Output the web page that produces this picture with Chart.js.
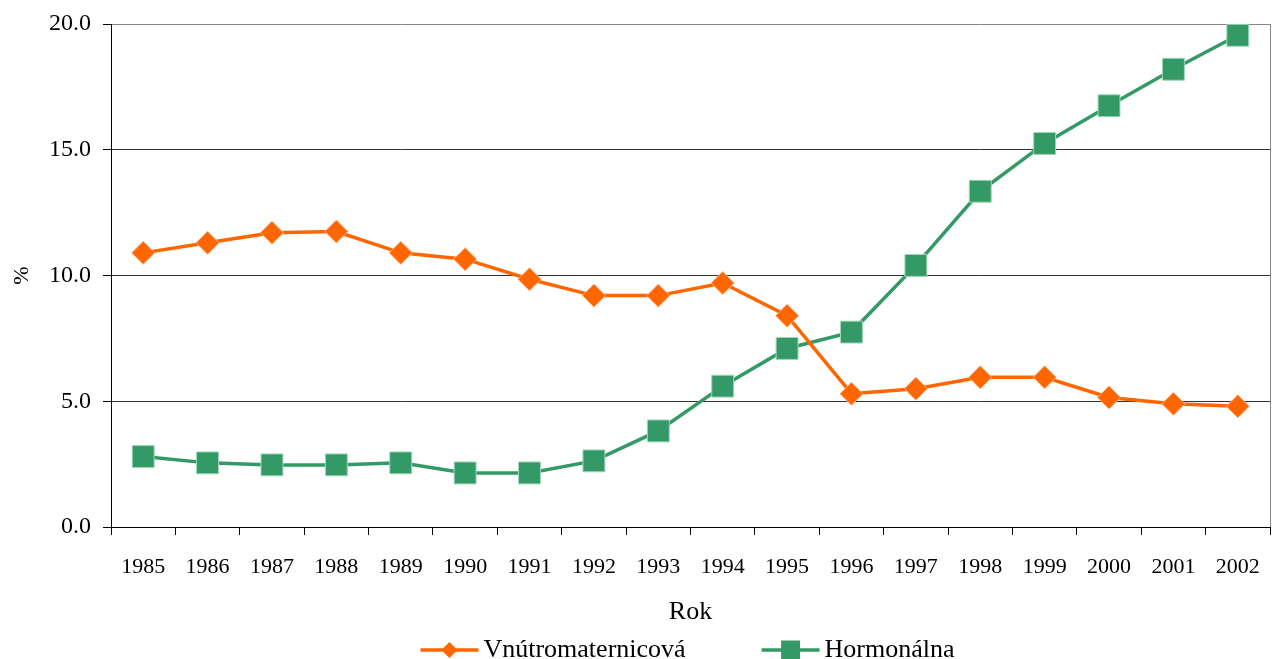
<!DOCTYPE html>
<html>
<head>
<meta charset="utf-8">
<script src="https://cdn.jsdelivr.net/npm/chart.js@4/dist/chart.umd.min.js"></script>
<style>
  html, body { margin: 0; padding: 0; background: #fff; }
  #wrap { width: 1273px; height: 659px; }
</style>
</head>
<body>
<div id="wrap"><canvas id="rokChart" width="1273" height="659"></canvas></div>
<script>
const years = ["1985", "1986", "1987", "1988", "1989", "1990", "1991", "1992", "1993",
  "1994", "1995", "1996", "1997", "1998", "1999", "2000", "2001", "2002"];
const vnutro = [10.9, 11.3, 11.7, 11.75, 10.9, 10.65, 9.85, 9.2, 9.2,
  9.7, 8.4, 5.3, 5.5, 5.95, 5.95, 5.15, 4.9, 4.8];
const hormon = [2.8, 2.55, 2.47, 2.47, 2.55, 2.15, 2.15, 2.63, 3.82,
  5.6, 7.1, 7.75, 10.4, 13.35, 15.25, 16.75, 18.2, 19.55];
const yTicks = [0, 5, 10, 15, 20];

const ORANGE = "#ff6600";
const GREEN = "#339966";
const FONT = "'Liberation Serif', 'Times New Roman', serif";

// legenda dole: čiara + značka + text (ako v Exceli)
const lineLegend = {
  id: "lineLegend",
  afterDraw(chart) {
    const ctx = chart.ctx;
    const a = chart.chartArea;
    const xs = chart.scales.x;
    const sets = chart.data.datasets;
    const lineLen = 58, gapText = 5, gapItem = 76;
    ctx.save();
    ctx.font = "26px " + FONT;
    const widths = sets.map(d => ctx.measureText(d.label).width);
    let total = 0;
    widths.forEach((w, i) => { total += lineLen + gapText + w + (i > 0 ? gapItem : 0); });
    let x = (a.left + a.right) / 2 - 3 - total / 2;
    const y = xs.bottom + 22;
    sets.forEach((d, i) => {
      if (i > 0) x += gapItem;
      ctx.strokeStyle = d.borderColor;
      ctx.lineWidth = 3.5;
      ctx.beginPath();
      ctx.moveTo(x, y);
      ctx.lineTo(x + lineLen, y);
      ctx.stroke();
      const cx = x + lineLen / 2;
      ctx.fillStyle = d.borderColor;
      ctx.beginPath();
      if (d.pointStyle === "rectRot") {
        ctx.moveTo(cx, y - 8); ctx.lineTo(cx + 8, y); ctx.lineTo(cx, y + 8); ctx.lineTo(cx - 8, y);
      } else {
        ctx.rect(cx - 9.5, y - 9.5, 19, 19);
      }
      ctx.closePath();
      ctx.fill();
      x += lineLen + gapText;
      ctx.fillStyle = "#000";
      ctx.textAlign = "left";
      ctx.textBaseline = "middle";
      ctx.fillText(d.label, x, y);
      x += widths[i];
    });
    // šedý rámik vpravo
    ctx.strokeStyle = "#888";
    ctx.lineWidth = 1;
    ctx.beginPath();
    ctx.moveTo(a.right + 0.5, a.top);
    ctx.lineTo(a.right + 0.5, a.bottom);
    ctx.stroke();
    ctx.restore();
  }
};

const ctx = document.getElementById("rokChart").getContext("2d");

new Chart(ctx, {
  type: "line",
  data: {
    labels: years,
    datasets: [
      {
        label: "Vnútromaternicová",
        data: vnutro,
        borderColor: ORANGE,
        backgroundColor: ORANGE,
        borderWidth: 3.5,
        pointStyle: "rectRot",
        pointRadius: 11.5,
        pointBorderWidth: 1,
        pointBorderColor: "#ffb080",
        tension: 0
      },
      {
        label: "Hormonálna",
        data: hormon,
        borderColor: GREEN,
        backgroundColor: GREEN,
        borderWidth: 3.5,
        pointStyle: "rect",
        pointRadius: 15.5,
        pointBorderWidth: 1,
        pointBorderColor: "#a0d8b8",
        tension: 0
      }
    ]
  },
  options: {
    responsive: false,
    animation: false,
    layout: { autoPadding: false, padding: { top: 24, right: 3, left: 0, bottom: 31 } },
    plugins: {
      tooltip: { enabled: false },
      legend: { display: false }
    },
    scales: {
      x: {
        offset: true,
        grid: { offset: true, drawOnChartArea: false, tickLength: 8, tickColor: "#000" },
        border: { color: "#000", width: 1 },
        ticks: { color: "#000", font: { family: FONT, size: 22 }, padding: 19, maxRotation: 0 },
        title: { display: true, text: "Rok", color: "#000", font: { family: FONT, size: 26 }, padding: 0 },
        afterFit: (s) => { s.height = 101; s.paddingLeft = 0; s.paddingRight = 0; }
      },
      y: {
        min: 0,
        max: 20,
        afterBuildTicks: (s) => { s.ticks = yTicks.map(v => ({ value: v })); },
        grid: {
          color: (c) => (c.tick && c.tick.value === 20 ? "#888" : "#333"),
          tickLength: 8,
          tickColor: "#000"
        },
        border: { color: "#000", width: 1 },
        ticks: {
          color: "#000",
          font: { family: FONT, size: 24 },
          padding: 12,
          callback: (v) => Number(v).toFixed(1)
        },
        title: { display: true, text: "%", color: "#000", font: { family: FONT, size: 22 }, padding: 9 },
        afterFit: (s) => { s.width = 111; s.paddingTop = 0; s.paddingBottom = 0; }
      }
    }
  },
  plugins: [lineLegend]
});
</script>
</body>
</html>
